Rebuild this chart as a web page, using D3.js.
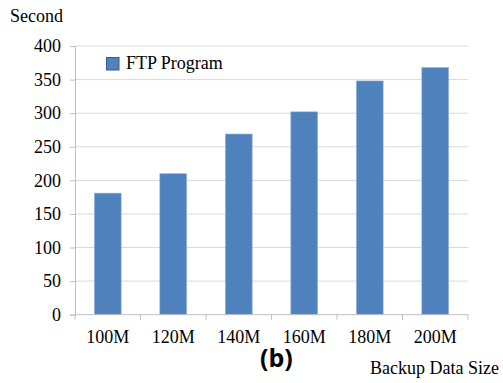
<!DOCTYPE html>
<html>
<head>
<meta charset="utf-8">
<script src="https://cdn.jsdelivr.net/npm/d3@7/dist/d3.min.js"></script>
<style>
  html, body { margin: 0; padding: 0; background: #fff; }
  svg { display: block; }
  text { font-family: "Liberation Serif", "Times New Roman", serif; fill: #000; }
</style>
</head>
<body>
<svg id="chart" width="503" height="383"></svg>
<script>
// Backup time of the FTP program per backup data size
const categories = ["100M", "120M", "140M", "160M", "180M", "200M"];
const seconds = [181, 210, 269, 302, 348, 368];
const yTicks = [0, 50, 100, 150, 200, 250, 300, 350, 400];
const seriesName = "FTP Program";

(function draw() {
  const svg = d3.select("#chart");
  const plotLeft = 75, plotRight = 468, plotTop = 46, plotBottom = 314.7;

  const x = d3.scaleBand().domain(categories).range([plotLeft, plotRight]).padding(0);
  const y = d3.scaleLinear().domain([0, 400]).range([plotBottom, plotTop]);

  const gridColor = "#d9d9d9";
  const axisColor = "#bfbfbf";
  const barColor = "#4f81bd";
  const serif = "'Liberation Serif', 'Times New Roman', serif";

  // horizontal gridlines
  svg.append("g")
    .selectAll("line")
    .data(yTicks.filter(d => d > 0))
    .join("line")
    .attr("x1", plotLeft).attr("x2", plotRight)
    .attr("y1", d => y(d)).attr("y2", d => y(d))
    .attr("stroke", gridColor).attr("stroke-width", 1);

  // y axis
  const yAxis = svg.append("g")
    .attr("transform", `translate(${plotLeft},0)`)
    .call(d3.axisLeft(y).tickValues(yTicks).tickSize(5).tickPadding(9));
  yAxis.select(".domain").attr("stroke", axisColor);
  yAxis.selectAll(".tick line").attr("stroke", axisColor);
  yAxis.selectAll(".tick text")
    .style("font-family", serif)
    .style("font-size", "18px")
    .attr("fill", "#000");

  // bars
  const barW = x.bandwidth() * 0.41;
  svg.append("g")
    .selectAll("rect")
    .data(categories.map((c, i) => ({ c, v: seconds[i] })))
    .join("rect")
    .attr("x", d => x(d.c) + (x.bandwidth() - barW) / 2)
    .attr("y", d => y(d.v))
    .attr("width", barW)
    .attr("height", d => y(0) - y(d.v))
    .attr("fill", barColor)
    .attr("stroke", "#9bb7dc")
    .attr("stroke-width", 0.6);

  // x axis with ticks at category boundaries
  const xAxisG = svg.append("g").attr("transform", `translate(0,${plotBottom})`);
  xAxisG.append("line")
    .attr("x1", plotLeft).attr("x2", plotRight)
    .attr("stroke", axisColor);
  const boundaries = categories.map(c => x(c)).concat([plotRight]);
  xAxisG.selectAll("line.tk")
    .data(boundaries)
    .join("line")
    .attr("class", "tk")
    .attr("x1", d => d).attr("x2", d => d)
    .attr("y1", 0).attr("y2", 5)
    .attr("stroke", axisColor);
  xAxisG.selectAll("text")
    .data(categories)
    .join("text")
    .attr("x", d => x(d) + x.bandwidth() / 2)
    .attr("y", 28)
    .attr("text-anchor", "middle")
    .style("font-size", "18px")
    .text(d => d);

  // axis titles
  svg.append("text").attr("x", 10).attr("y", 22).style("font-size", "18px").text("Second");
  svg.append("text").attr("x", 370).attr("y", 374).style("font-size", "18px").text("Backup Data Size");
  svg.append("text")
    .attr("x", 260).attr("y", 367)
    .style("font-size", "25px")
    .style("font-weight", "bold")
    .style("font-family", "'Open Sans', 'Liberation Sans', sans-serif")
    .text("(b)");

  // legend
  svg.append("rect")
    .attr("x", 106.5).attr("y", 57.5).attr("width", 12.5).attr("height", 12.5)
    .attr("fill", barColor).attr("stroke", "#385d8a").attr("stroke-width", 1);
  svg.append("text").attr("x", 126).attr("y", 69).style("font-size", "18px").text(seriesName);
})();
</script>
</body>
</html>
